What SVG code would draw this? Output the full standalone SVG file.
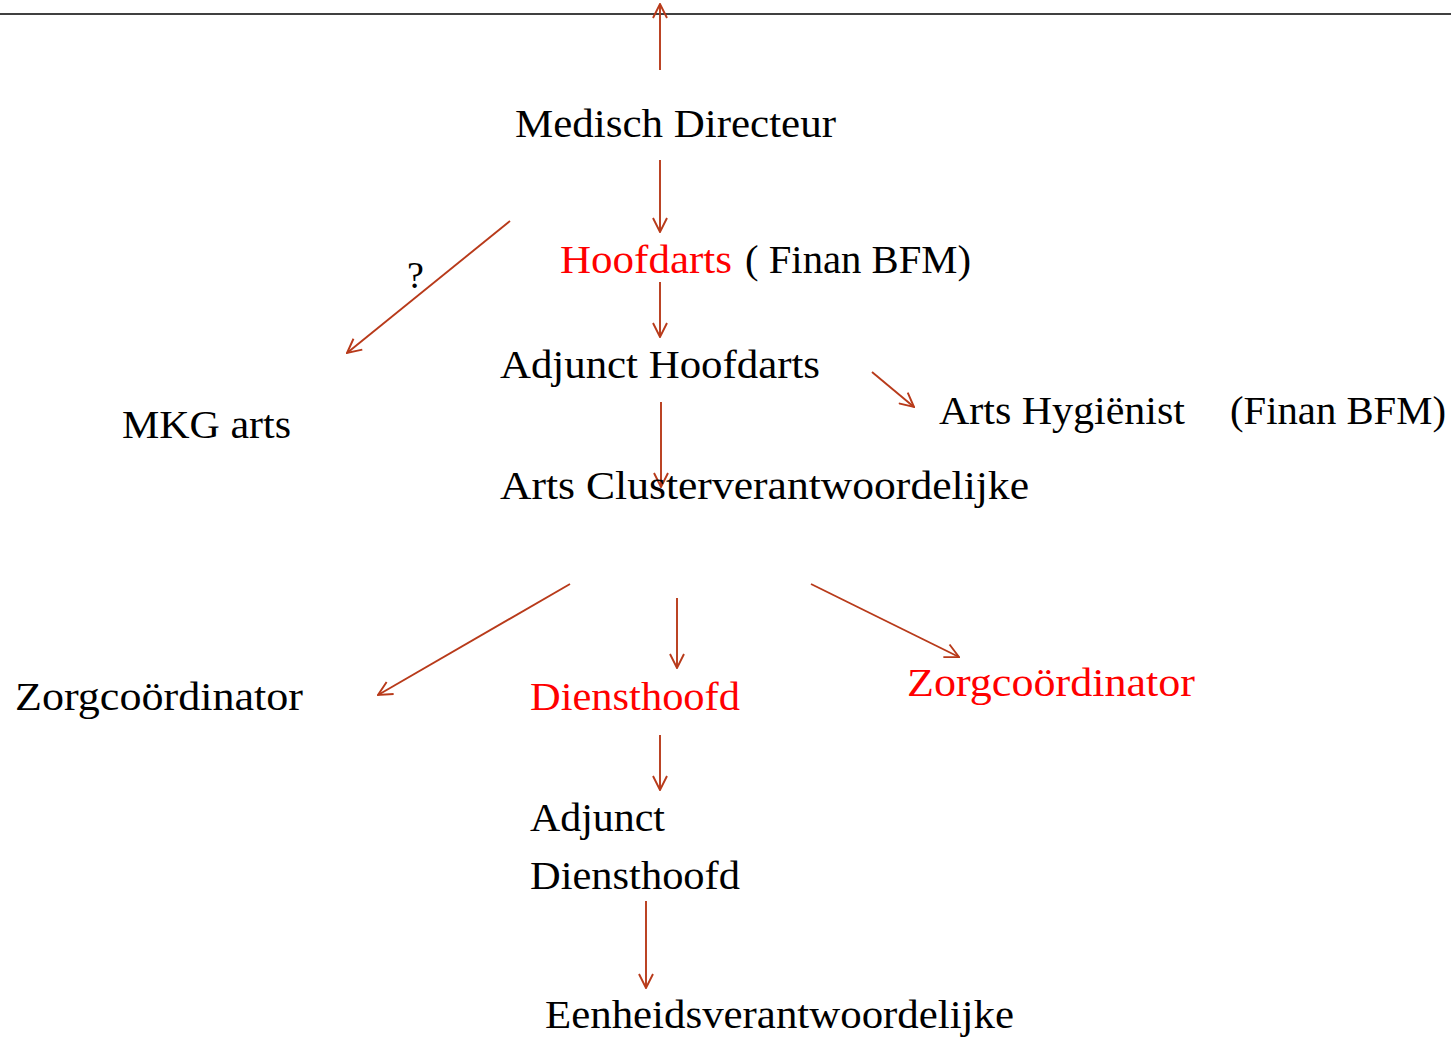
<svg xmlns="http://www.w3.org/2000/svg" width="1451" height="1038" viewBox="0 0 1451 1038">
<style>
text{font-family:"Liberation Serif","Times New Roman",serif;font-size:40px;fill:#000}
.red{fill:#ff0000}
.c line{stroke:#b83a1a;stroke-width:1.9;fill:none}
</style>
<defs>
<marker id="ah" viewBox="0 0 16 16" refX="15" refY="8" markerWidth="16" markerHeight="16" markerUnits="userSpaceOnUse" orient="auto">
<path d="M1,1 L15,8 L1,15" fill="none" stroke="#b83a1a" stroke-width="1.9"/>
</marker>
</defs>
<rect width="1451" height="1038" fill="#fff"/>
<line x1="0" y1="14" x2="1451" y2="14" stroke="#000" stroke-width="1.3"/>
<g class="c">
<line x1="660" y1="70" x2="660" y2="4" marker-end="url(#ah)"/>
<line x1="660" y1="160" x2="660" y2="232" marker-end="url(#ah)"/>
<line x1="510" y1="221" x2="347" y2="353" marker-end="url(#ah)"/>
<line x1="660" y1="282" x2="660" y2="337" marker-end="url(#ah)"/>
<line x1="872" y1="372" x2="914" y2="407" marker-end="url(#ah)"/>
<line x1="661" y1="402" x2="661" y2="487" marker-end="url(#ah)"/>
<line x1="570" y1="584" x2="378" y2="695" marker-end="url(#ah)"/>
<line x1="677" y1="598" x2="677" y2="668" marker-end="url(#ah)"/>
<line x1="811" y1="584" x2="959" y2="657" marker-end="url(#ah)"/>
<line x1="660" y1="735" x2="660" y2="790" marker-end="url(#ah)"/>
<line x1="646" y1="901" x2="646" y2="988" marker-end="url(#ah)"/>
</g>
<g id="medisch-directeur"><text x="515" y="137" textLength="321" lengthAdjust="spacingAndGlyphs">Medisch Directeur</text></g>
<g id="hoofdarts"><text x="560" y="273" class="red" textLength="172" lengthAdjust="spacingAndGlyphs">Hoofdarts</text><text x="745" y="273" textLength="226" lengthAdjust="spacingAndGlyphs">( Finan BFM)</text></g>
<g id="vraag"><text x="407" y="288" style="font-size:38px">?</text></g>
<g id="adjunct-hoofdarts"><text x="500" y="378" textLength="320" lengthAdjust="spacingAndGlyphs">Adjunct Hoofdarts</text></g>
<g id="mkg-arts"><text x="122" y="438" textLength="169" lengthAdjust="spacingAndGlyphs">MKG arts</text></g>
<g id="arts-hygienist"><text x="939" y="424" textLength="246" lengthAdjust="spacingAndGlyphs">Arts Hygiënist</text><text x="1230" y="424" textLength="216" lengthAdjust="spacingAndGlyphs">(Finan BFM)</text></g>
<g id="arts-cluster"><text x="500" y="499" textLength="529" lengthAdjust="spacingAndGlyphs">Arts Clusterverantwoordelijke</text></g>
<g id="zorgcoordinator-links"><text x="15" y="710" textLength="288" lengthAdjust="spacingAndGlyphs">Zorgcoördinator</text></g>
<g id="diensthoofd"><text x="530" y="710" class="red" textLength="210" lengthAdjust="spacingAndGlyphs">Diensthoofd</text></g>
<g id="zorgcoordinator-rechts"><text x="907" y="696" class="red" textLength="288" lengthAdjust="spacingAndGlyphs">Zorgcoördinator</text></g>
<g id="adjunct-diensthoofd"><text x="530" y="831" textLength="135" lengthAdjust="spacingAndGlyphs">Adjunct</text><text x="530" y="889" textLength="210" lengthAdjust="spacingAndGlyphs">Diensthoofd</text></g>
<g id="eenheidsverantwoordelijke"><text x="545" y="1028" textLength="469" lengthAdjust="spacingAndGlyphs">Eenheidsverantwoordelijke</text></g>
</svg>
